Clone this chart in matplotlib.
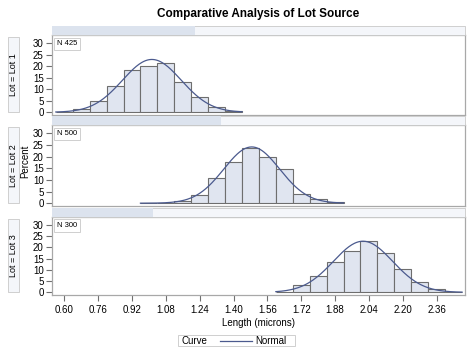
import numpy as np
import matplotlib
matplotlib.use("Agg")
import matplotlib.pyplot as plt
from matplotlib.patches import Rectangle
from matplotlib.lines import Line2D

plt.rcParams['font.family'] = ['Liberation Sans', 'DejaVu Sans']

# histogram data (percent per 0.08 bin, by bin midpoint)
lot_names = ["Lot 1", "Lot 2", "Lot 3"]
lot_n = [425, 500, 300]

lot1_mids = [0.60, 0.68, 0.76, 0.84, 0.92, 1.00, 1.08, 1.16, 1.24, 1.32, 1.40]
lot1_pct = [0.24, 1.41, 4.71, 11.29, 18.59, 20.0, 21.41, 12.94, 6.59, 2.35, 0.47]

lot2_mids = [1.00, 1.08, 1.16, 1.24, 1.32, 1.40, 1.48, 1.56, 1.64, 1.72, 1.80, 1.88]
lot2_pct = [0.2, 0.2, 1.0, 3.4, 11.0, 17.8, 23.6, 19.8, 14.6, 4.0, 1.6, 0.4]

lot3_mids = [1.64, 1.72, 1.80, 1.88, 1.96, 2.04, 2.12, 2.20, 2.28, 2.36, 2.44]
lot3_pct = [0.33, 3.33, 7.33, 13.33, 18.33, 23.0, 17.33, 10.33, 4.67, 1.33, 0.33]

# fitted normal parameters (mean, std)
lot_mu = [1.014, 1.486, 2.012]
lot_sigma = [0.139, 0.132, 0.140]

bin_width = 0.08
x_ticks = [0.60, 0.76, 0.92, 1.08, 1.24, 1.40, 1.56, 1.72, 1.88, 2.04, 2.20, 2.36]
y_ticks = [0, 5, 10, 15, 20, 25, 30]

bar_fill = '#e0e5f0'
bar_edge = '#6e6e6e'
curve_col = '#4b5a8e'
frame_col = '#a8a8a8'

W, H = 474, 355
fig = plt.figure(figsize=(W / 100, H / 100), dpi=100)

# panel placement in pixels: (top, bottom)
panel_px = [(35, 115), (125, 206), (217, 295)]
left_px, right_px = 52, 465

mids_all = [lot1_mids, lot2_mids, lot3_mids]
pct_all = [lot1_pct, lot2_pct, lot3_pct]
total_n = sum(lot_n)

for i, (top, bot) in enumerate(panel_px):
    ax = fig.add_axes([left_px / W, 1 - bot / H, (right_px - left_px) / W, (bot - top) / H])
    mids = np.array(mids_all[i])
    ax.bar(mids, pct_all[i], width=bin_width, color=bar_fill, edgecolor=bar_edge, linewidth=0.8, zorder=2)

    # normal curve scaled to percent per bin
    xs = np.linspace(mids.min() - bin_width / 2, mids.max() + bin_width / 2, 200)
    mu, sd = lot_mu[i], lot_sigma[i]
    ys = 100 * bin_width / (sd * np.sqrt(2 * np.pi)) * np.exp(-0.5 * ((xs - mu) / sd) ** 2)
    ax.plot(xs, ys, color=curve_col, linewidth=0.9, zorder=3)

    ax.set_xlim(0.542, 2.494)
    ax.set_ylim(-1.2, 33.6)
    ax.set_yticks(y_ticks)
    ax.set_xticks(x_ticks)
    ax.tick_params(axis='y', labelsize=7, length=4, color='#707070', pad=2)
    ax.tick_params(axis='x', labelsize=7, length=4, color='#707070', pad=3)
    if i < 2:
        ax.tick_params(axis='x', bottom=False, labelbottom=False)
    else:
        ax.set_xticklabels(["%.2f" % t for t in x_ticks])
    for s in ax.spines.values():
        s.set_color(frame_col)
        s.set_linewidth(0.9)

    # N inset box
    ax.text(0.012, 0.89, "N %d" % lot_n[i], transform=ax.transAxes, fontsize=5.5,
            va='center', ha='left',
            bbox=dict(boxstyle='square,pad=0.35', fc='white', ec='#c8c8c8', lw=0.6))

    # proportion strip above panel
    strip_h = 9
    sx = left_px / W
    sw = (right_px - left_px) / W
    sy = 1 - top / H
    fig.add_artist(Rectangle((sx, sy), sw, strip_h / H, transform=fig.transFigure,
                             fc='#f4f6fa', ec='#c8c8c8', lw=0.6))
    fig.add_artist(Rectangle((sx, sy), sw * lot_n[i] / total_n, strip_h / H, transform=fig.transFigure,
                             fc='#dce3ee', ec='none'))

    # row label box
    fig.add_artist(Rectangle((8 / W, 1 - (bot - 3) / H), 11 / W, (bot - top - 5) / H,
                             transform=fig.transFigure, fc='#f4f6fa', ec='#c8c8c8', lw=0.6))
    fig.text(13.5 / W, 1 - (top + bot) / 2 / H, "Lot = " + lot_names[i], rotation=90,
             ha='center', va='center', fontsize=6.5)

fig.text(0.5 * (left_px + right_px) / W, 1 - 14 / H, "Comparative Analysis of Lot Source",
         ha='center', va='center', fontsize=8.5, fontweight='bold')
fig.text(25 / W, 1 - 161 / H, "Percent", rotation=90, ha='center', va='center', fontsize=7)
fig.text(0.5 * (left_px + right_px) / W, 1 - 323 / H, "Length (microns)",
         ha='center', va='center', fontsize=7)

# legend: "Curve  —— Normal" in a single framed row
leg_y = 1 - 340.5 / H
fig.add_artist(Rectangle((178 / W, 1 - 346 / H), 117 / W, 11 / H, transform=fig.transFigure,
                         fc='white', ec='#c8c8c8', lw=0.6))
fig.text(182 / W, leg_y, "Curve", ha='left', va='center', fontsize=7)
fig.add_artist(Line2D([220 / W, 252 / W], [leg_y, leg_y], transform=fig.transFigure,
                      color=curve_col, linewidth=0.9))
fig.text(255 / W, leg_y, "Normal", ha='left', va='center', fontsize=7)

fig.savefig("out.png", dpi=100)
